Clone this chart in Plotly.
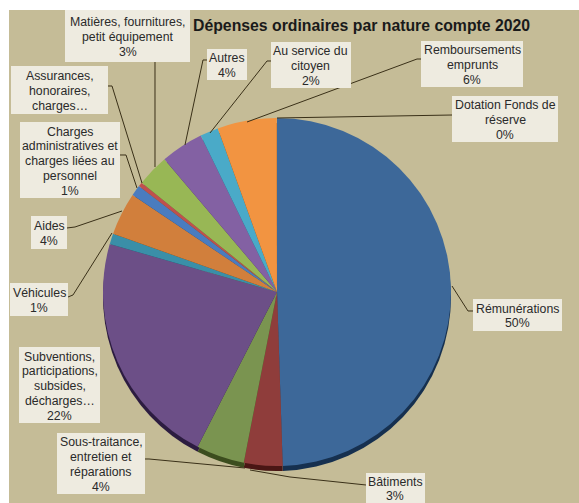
import plotly.graph_objects as go

W, H = 579, 503

categories = ["Rémunérations", "Bâtiments", "Sous-traitance, entretien et réparations",
              "Subventions, participations, subsides, décharges…", "Véhicules", "Aides",
              "Charges administratives et charges liées au personnel",
              "Assurances, honoraires, charges…", "Matières, fournitures, petit équipement",
              "Autres", "Au service du citoyen", "Remboursements emprunts",
              "Dotation Fonds de réserve"]
values = [49.7, 3.6, 4.5, 22.0, 1.0, 4.0, 1.0, 0.4, 3.0, 4.0, 1.7, 5.5, 0.05]
percent_labels = ["50%", "3%", "4%", "22%", "1%", "4%", "1%", "", "3%", "4%", "2%", "6%", "0%"]
label_lines = [["Rémunérations"], ["Bâtiments"], ["Sous-traitance,", "entretien et", "réparations"],
               ["Subventions,", "participations,", "subsides,", "décharges…"], ["Véhicules"], ["Aides"],
               ["Charges", "administratives et", "charges liées au", "personnel"],
               ["Assurances,", "honoraires,", "charges…"],
               ["Matières, fournitures,", "petit équipement"], ["Autres"], ["Au service du", "citoyen"],
               ["Remboursements", "emprunts"], ["Dotation Fonds de", "réserve"]]
colors = ["#3d6899", "#8f3d3b", "#7a9450", "#6c4f87", "#3a8fa8", "#d17f3c", "#4a7cbf",
          "#c0504d", "#98b755", "#8361a3", "#4aaac8", "#f29441", "#f29441"]
shadow_colors = ["#16304f", "#4a1614", "#3c4d1e", "#2c1c40", "#1b4a58", "#6b3d14", "#1f3d66",
                 "#6b2220", "#4f6326", "#412a58", "#1f5a6e", "#7a4515", "#7a4515"]

# label boxes in pixels: left, top, right, bottom
boxes = [(473, 299, 562, 331), (366, 473, 425, 503), (57, 433, 145, 494), (19, 347, 100, 423),
         (10, 283, 68, 316), (31, 216, 67, 249), (20, 122, 120, 198), (11, 66, 108, 114),
         (65, 10, 190, 62), (207, 49, 247, 80), (271, 42, 351, 88), (421, 41, 523, 87),
         (452, 96, 558, 142)]
# leader lines in pixels
leaders = [[(473, 311), (468, 311), (452, 286)], [(366, 485), (290, 477), (250, 470)],
           [(145, 459), (149, 459), (245, 468)], [], [(68, 297), (73, 295), (112, 233)],
           [(67, 228), (75, 227), (122, 211)], [(120, 155), (126, 155), (137, 188)],
           [(108, 86), (112, 86), (142, 183)], [(155, 62), (155, 167)],
           [(207, 60), (203, 60), (185, 145)], [(271, 61), (267, 61), (210, 133)],
           [(421, 59), (417, 59), (247, 122)], [(452, 115), (277, 118)]]

CX, CY, R = 277, 292, 174
LINE_STEP = 14.75
BG, BOX, INK, LEADER = "#c5bc97", "#eeebe0", "#2a2a2a", "#3a3018"
FONT = "Liberation Sans"


def px(x):
    return x / W


def py(y):
    return 1 - y / H


def pie(cy, cols):
    return go.Pie(values=values, labels=categories, sort=False, direction="clockwise", rotation=0,
                  domain=dict(x=[px(CX - R), px(CX + R)], y=[py(cy + R), py(cy - R)]),
                  marker=dict(colors=cols, line=dict(width=0)),
                  textinfo="none", hoverinfo="label+percent", showlegend=False)


fig = go.Figure([pie(CY + 5, shadow_colors), pie(CY, colors)])

shapes = [dict(type="rect", xref="paper", yref="paper", x0=px(9), x1=1, y0=0, y1=py(10),
               fillcolor=BG, line_width=0, layer="below")]
for pts in leaders:
    if pts:
        d = "M" + " L".join(f"{px(x):.5f},{py(y):.5f}" for x, y in pts)
        shapes.append(dict(type="path", xref="paper", yref="paper", path=d,
                           line=dict(color=LEADER, width=1), layer="above"))
for l, t, r, b in boxes:
    shapes.append(dict(type="rect", xref="paper", yref="paper", x0=px(l), x1=px(r), y0=py(b), y1=py(t),
                       fillcolor=BOX, line_width=0, layer="above"))

annotations = []
for lines, pct, (l, t, r, b) in zip(label_lines, percent_labels, boxes):
    rows = lines + ([pct] if pct else [])
    cy = (t + b) / 2 + 1
    for i, row in enumerate(rows):
        y = cy + (i - (len(rows) - 1) / 2) * LINE_STEP
        annotations.append(dict(x=px((l + r) / 2), y=py(y), xref="paper", yref="paper", text=row,
                                showarrow=False, xanchor="center", yanchor="middle", borderpad=0,
                                font=dict(family=FONT, size=12.3, color=INK)))
annotations.append(dict(x=px(361), y=py(26), xref="paper", yref="paper", showarrow=False,
                        text="<b>Dépenses ordinaires par nature compte 2020</b>",
                        xanchor="center", yanchor="middle",
                        font=dict(family=FONT, size=15.8, color="#1a1a1a")))

fig.update_layout(width=W, height=H, margin=dict(l=0, r=0, t=0, b=0), paper_bgcolor="white",
                  shapes=shapes, annotations=annotations, font=dict(family=FONT))
fig.write_html("out.html", config=dict(displayModeBar=False),
               post_script="document.body.style.margin='0';document.body.style.overflow='hidden';")
